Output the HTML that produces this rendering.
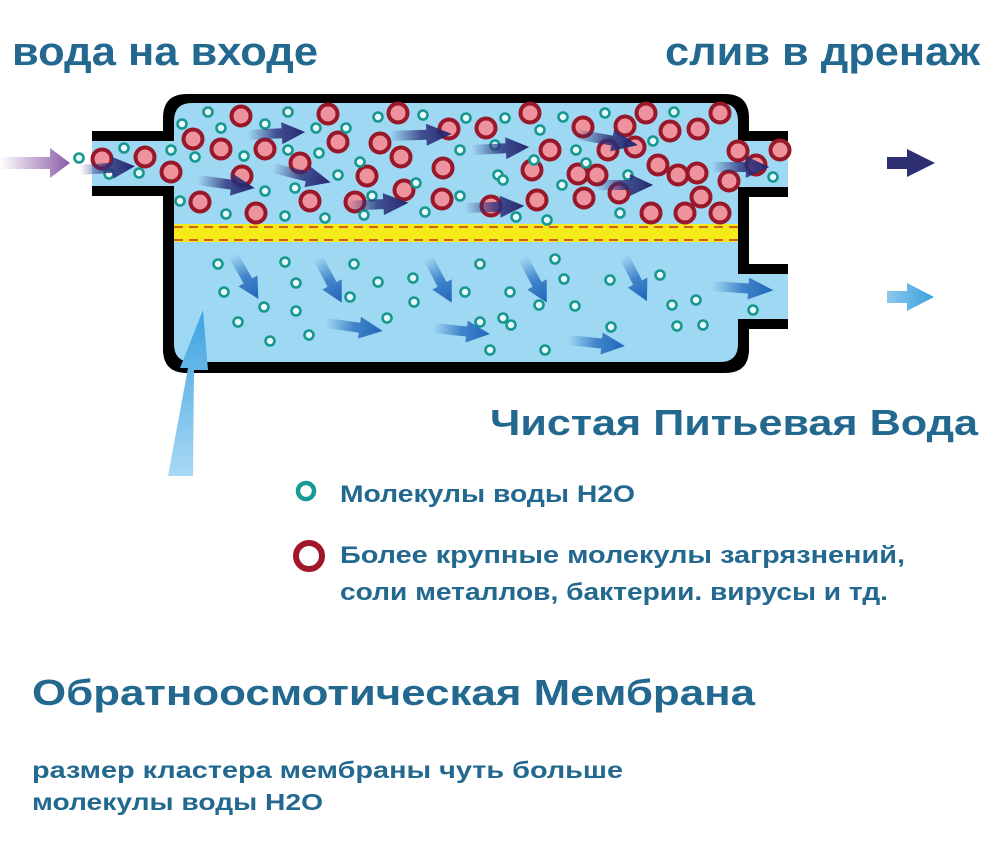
<!DOCTYPE html>
<html><head><meta charset="utf-8"><style>
html,body{margin:0;padding:0;background:#fff;}
svg{display:block}
</style></head><body>
<svg width="1000" height="846" viewBox="0 0 1000 846" xmlns="http://www.w3.org/2000/svg">
<defs>
<linearGradient id="dk" x1="0" x2="1" y1="0" y2="0"><stop offset="0" stop-color="#2a2f7a" stop-opacity="0"/><stop offset="0.5" stop-color="#2a2f7a" stop-opacity="0.8"/><stop offset="1" stop-color="#25286e"/></linearGradient>
<linearGradient id="bl" x1="0" x2="1" y1="0" y2="0"><stop offset="0" stop-color="#2a6fc0" stop-opacity="0"/><stop offset="0.5" stop-color="#2a6fc0" stop-opacity="0.8"/><stop offset="1" stop-color="#1f66b8"/></linearGradient>
<linearGradient id="pu" x1="0" x2="1"><stop offset="0" stop-color="#8a5aa8" stop-opacity="0"/><stop offset="1" stop-color="#8a5aa8"/></linearGradient>
<linearGradient id="lb" x1="0" x2="1"><stop offset="0" stop-color="#8cc8ec"/><stop offset="1" stop-color="#3aa0dc"/></linearGradient>
<linearGradient id="up" x1="0" x2="0" y1="1" y2="0"><stop offset="0" stop-color="#a8d8f4"/><stop offset="1" stop-color="#3ea2e0"/></linearGradient>
<g id="ar"><path d="M0,-5 L26,-5 L26,-11 L44,0 L26,11 L26,5 L0,5 Z"/></g>
<g id="r"><circle r="9.5" fill="#ee939d" stroke="#98182a" stroke-width="4"/></g>
<g id="t"><circle r="4.5" fill="#e8f8fb" stroke="#16988f" stroke-width="2.6"/></g>
</defs>
<path d="M92,131 H163 V118 Q163,94 187,94 H725 Q749,94 749,118 V131 H788 V197 H749 V264 H788 V329 H749 V349 Q749,373 725,373 H187 Q163,373 163,349 V196 H92 Z" fill="#000"/>
<path d="M92,141 H174 V121 Q174,103 192,103 H720 Q738,103 738,121 V141 H788 V187 H738 V274 H788 V319 H738 V344 Q738,362 720,362 H192 Q174,362 174,344 V186 H92 Z" fill="#9fd8f3"/>
<rect x="174" y="224" width="564" height="18" fill="#f5ea1a"/>
<line x1="174" y1="227" x2="738" y2="227" stroke="#c8302a" stroke-width="1.5" stroke-dasharray="9,6"/>
<line x1="174" y1="240" x2="738" y2="240" stroke="#c8302a" stroke-width="1.5" stroke-dasharray="9,6"/>
<g>
<use href="#r" x="102" y="159"/><use href="#r" x="145" y="157"/><use href="#r" x="171" y="172"/><use href="#r" x="193" y="139"/><use href="#r" x="241" y="116"/><use href="#r" x="221" y="149"/><use href="#r" x="265" y="149"/><use href="#r" x="328" y="114"/><use href="#r" x="338" y="142"/><use href="#r" x="300" y="163"/><use href="#r" x="367" y="176"/><use href="#r" x="398" y="113"/><use href="#r" x="380" y="143"/><use href="#r" x="401" y="157"/><use href="#r" x="404" y="190"/><use href="#r" x="449" y="129"/><use href="#r" x="443" y="168"/><use href="#r" x="486" y="128"/><use href="#r" x="442" y="199"/><use href="#r" x="242" y="176"/><use href="#r" x="200" y="202"/><use href="#r" x="256" y="213"/><use href="#r" x="310" y="201"/><use href="#r" x="355" y="202"/><use href="#r" x="491" y="206"/>
<use href="#r" x="530" y="113"/><use href="#r" x="583" y="127"/><use href="#r" x="625" y="126"/><use href="#r" x="646" y="113"/><use href="#r" x="670" y="131"/><use href="#r" x="698" y="129"/><use href="#r" x="720" y="113"/><use href="#r" x="550" y="150"/><use href="#r" x="608" y="150"/><use href="#r" x="578" y="174"/><use href="#r" x="635" y="147"/><use href="#r" x="658" y="165"/><use href="#r" x="532" y="170"/><use href="#r" x="597" y="175"/><use href="#r" x="678" y="175"/><use href="#r" x="738" y="151"/><use href="#r" x="780" y="150"/><use href="#r" x="756" y="165"/><use href="#r" x="697" y="173"/><use href="#r" x="729" y="181"/><use href="#r" x="701" y="197"/><use href="#r" x="584" y="198"/><use href="#r" x="537" y="200"/><use href="#r" x="651" y="213"/><use href="#r" x="685" y="213"/><use href="#r" x="720" y="213"/><use href="#r" x="619" y="193"/>
</g>
<g>
<use href="#t" x="79" y="158"/><use href="#t" x="124" y="148"/><use href="#t" x="109" y="174"/><use href="#t" x="139" y="173"/><use href="#t" x="171" y="150"/><use href="#t" x="182" y="124"/><use href="#t" x="208" y="112"/><use href="#t" x="195" y="157"/><use href="#t" x="221" y="128"/><use href="#t" x="244" y="156"/><use href="#t" x="265" y="124"/><use href="#t" x="288" y="112"/><use href="#t" x="316" y="128"/><use href="#t" x="288" y="150"/><use href="#t" x="319" y="153"/><use href="#t" x="346" y="128"/><use href="#t" x="360" y="162"/><use href="#t" x="378" y="117"/><use href="#t" x="338" y="175"/><use href="#t" x="295" y="188"/><use href="#t" x="265" y="191"/><use href="#t" x="180" y="201"/><use href="#t" x="226" y="214"/><use href="#t" x="285" y="216"/><use href="#t" x="325" y="218"/><use href="#t" x="364" y="215"/><use href="#t" x="372" y="196"/><use href="#t" x="416" y="183"/><use href="#t" x="425" y="212"/><use href="#t" x="460" y="196"/><use href="#t" x="460" y="150"/><use href="#t" x="466" y="118"/><use href="#t" x="423" y="115"/><use href="#t" x="495" y="145"/><use href="#t" x="498" y="175"/>
<use href="#t" x="505" y="118"/><use href="#t" x="540" y="130"/><use href="#t" x="563" y="117"/><use href="#t" x="605" y="113"/><use href="#t" x="674" y="112"/><use href="#t" x="653" y="141"/><use href="#t" x="576" y="150"/><use href="#t" x="534" y="160"/><use href="#t" x="586" y="163"/><use href="#t" x="628" y="175"/><use href="#t" x="562" y="185"/><use href="#t" x="516" y="217"/><use href="#t" x="547" y="220"/><use href="#t" x="620" y="213"/><use href="#t" x="773" y="177"/><use href="#t" x="503" y="180"/>
<use href="#t" x="218" y="264"/><use href="#t" x="224" y="292"/><use href="#t" x="285" y="262"/><use href="#t" x="296" y="283"/><use href="#t" x="264" y="307"/><use href="#t" x="238" y="322"/><use href="#t" x="296" y="311"/><use href="#t" x="270" y="341"/><use href="#t" x="309" y="335"/><use href="#t" x="354" y="264"/><use href="#t" x="378" y="282"/><use href="#t" x="350" y="297"/><use href="#t" x="413" y="278"/><use href="#t" x="387" y="318"/><use href="#t" x="414" y="302"/><use href="#t" x="480" y="264"/><use href="#t" x="465" y="292"/><use href="#t" x="480" y="322"/><use href="#t" x="490" y="350"/><use href="#t" x="510" y="292"/><use href="#t" x="503" y="318"/><use href="#t" x="555" y="259"/><use href="#t" x="564" y="279"/><use href="#t" x="539" y="305"/><use href="#t" x="575" y="306"/><use href="#t" x="511" y="325"/><use href="#t" x="545" y="350"/><use href="#t" x="610" y="280"/><use href="#t" x="660" y="275"/><use href="#t" x="672" y="305"/><use href="#t" x="611" y="327"/><use href="#t" x="677" y="326"/><use href="#t" x="696" y="300"/><use href="#t" x="703" y="325"/><use href="#t" x="753" y="310"/>
</g>
<g fill="url(#dk)">
<use href="#ar" transform="translate(80,170) rotate(-4) scale(1.25,1)"/>
<use href="#ar" transform="translate(248,135) rotate(-3) scale(1.3,1)"/>
<use href="#ar" transform="translate(390,136) rotate(-2) scale(1.4,1)"/>
<use href="#ar" transform="translate(198,180) rotate(8) scale(1.3,1)"/>
<use href="#ar" transform="translate(273,168) rotate(14) scale(1.35,1)"/>
<use href="#ar" transform="translate(347,206) rotate(-3) scale(1.4,1)"/>
<use href="#ar" transform="translate(472,150) rotate(-3) scale(1.3,1)"/>
<use href="#ar" transform="translate(575,134) rotate(10) scale(1.45,1)"/>
<use href="#ar" transform="translate(465,208) rotate(-2) scale(1.35,1)"/>
<use href="#ar" transform="translate(596,185) rotate(0) scale(1.3,1)"/>
<use href="#ar" transform="translate(712,167) rotate(0) scale(1.3,1)"/>
</g>
<g fill="url(#bl)">
<use href="#ar" transform="translate(233,255) rotate(60) scale(1.15,1)"/>
<use href="#ar" transform="translate(318,258) rotate(62) scale(1.15,1)"/>
<use href="#ar" transform="translate(428,258) rotate(62) scale(1.15,1)"/>
<use href="#ar" transform="translate(523,258) rotate(62) scale(1.15,1)"/>
<use href="#ar" transform="translate(624,256) rotate(63) scale(1.15,1)"/>
<use href="#ar" transform="translate(326,323) rotate(8) scale(1.3,1)"/>
<use href="#ar" transform="translate(433,328) rotate(6) scale(1.3,1)"/>
<use href="#ar" transform="translate(568,340) rotate(6) scale(1.3,1)"/>
<use href="#ar" transform="translate(712,286) rotate(4) scale(1.4,1)"/>
</g>
<path d="M0,157 H50 V148 L70,163 L50,178 V169 H0 Z" fill="url(#pu)"/>
<path d="M887,157 H907 V149 L935,163 L907,177 V169 H887 Z" fill="#2e2f72"/>
<path d="M887,291 H907 V283 L934,297 L907,311 V303 H887 Z" fill="url(#lb)"/>
<path d="M168,476 L193,476 L194,370 L208,370 L203,310 L180,368 L188,368 Z" fill="url(#up)"/>
<circle cx="306" cy="491" r="8" fill="#fff" stroke="#149c94" stroke-width="4.5"/>
<circle cx="309" cy="556" r="13" fill="#fff" stroke="#a0162a" stroke-width="6"/>
<g fill="#23698f" font-family="'Liberation Sans Narrow','Liberation Sans',sans-serif" font-weight="bold">
<text x="12" y="65" font-size="40" textLength="306" lengthAdjust="spacingAndGlyphs">вода на входе</text>
<text x="665" y="65" font-size="40" textLength="315" lengthAdjust="spacingAndGlyphs">слив в дренаж</text>
</g>
<g fill="#23698f" font-family="'Liberation Sans',sans-serif" font-weight="bold">
<text x="490" y="435" font-size="36" textLength="488" lengthAdjust="spacingAndGlyphs">Чистая Питьевая Вода</text>
<text x="340" y="502" font-size="24" textLength="295" lengthAdjust="spacingAndGlyphs">Молекулы воды H2O</text>
<text x="340" y="563" font-size="24" textLength="565" lengthAdjust="spacingAndGlyphs">Более крупные молекулы загрязнений,</text>
<text x="340" y="600" font-size="24" textLength="548" lengthAdjust="spacingAndGlyphs">соли металлов, бактерии. вирусы и тд.</text>
<text x="32" y="705" font-size="36" textLength="723" lengthAdjust="spacingAndGlyphs">Обратноосмотическая Мембрана</text>
<text x="32" y="778" font-size="23" textLength="591" lengthAdjust="spacingAndGlyphs">размер кластера мембраны  чуть больше</text>
<text x="32" y="810" font-size="23" textLength="291" lengthAdjust="spacingAndGlyphs">молекулы воды H2O</text>
</g>
</svg>
</body></html>
